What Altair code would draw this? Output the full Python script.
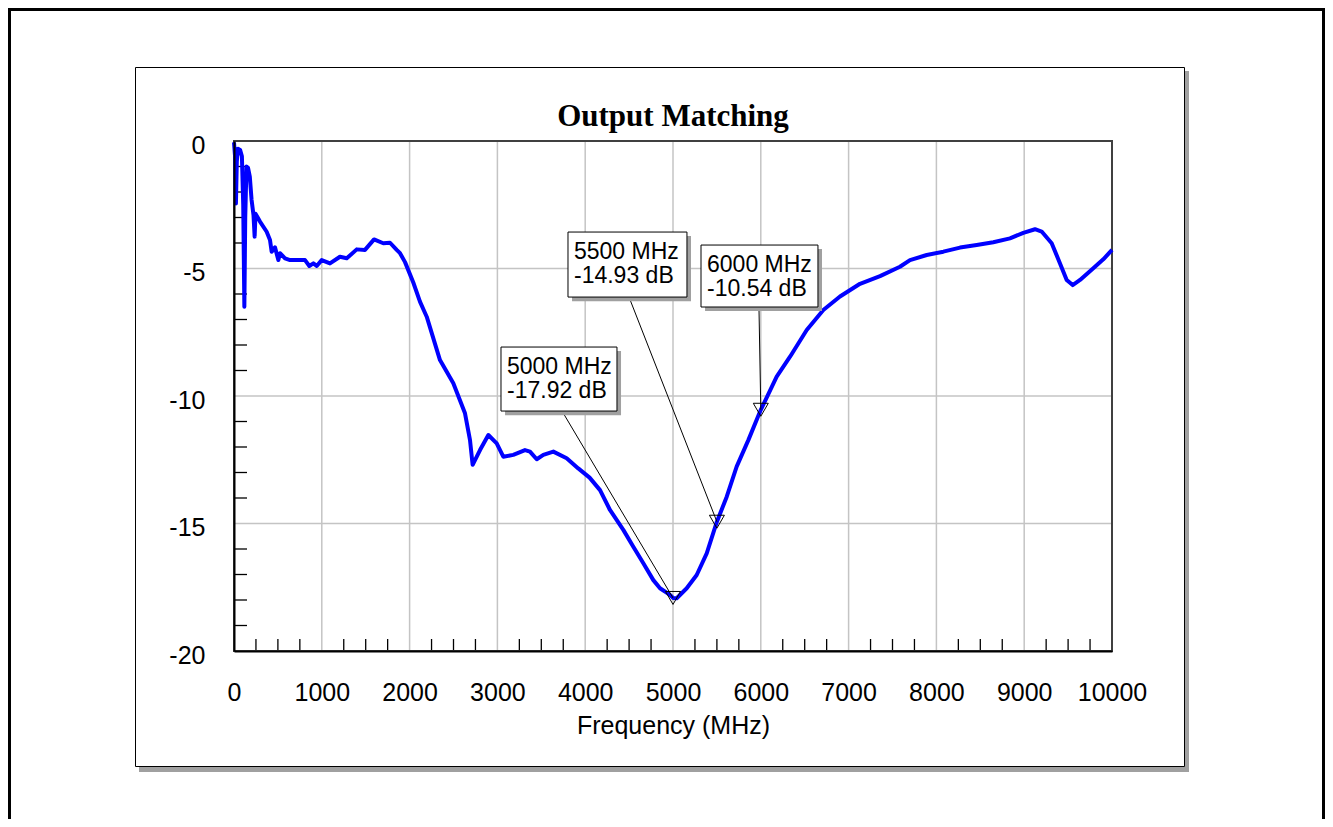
import altair as alt
import pandas as pd

# ---- curve ----
freq_mhz = [0, 12, 22, 32, 45, 70, 90, 105, 118, 128, 142, 160, 180, 200, 222, 235, 245,
            270, 296, 372, 410, 429, 467, 505, 524, 581, 638, 809, 858, 904, 942, 999,
            1093, 1207, 1284, 1398, 1492, 1595, 1700, 1777, 1853, 1891, 1948, 2042, 2118,
            2195, 2346, 2498, 2631, 2688, 2718, 2802, 2897, 2992, 3067, 3181, 3314, 3371,
            3448, 3523, 3637, 3789, 3921, 4050, 4169, 4282, 4434, 4548, 4662, 4776, 4852,
            4966, 5000, 5042, 5156, 5270, 5384, 5500, 5612, 5725, 5858, 6000, 6181, 6333,
            6523, 6712, 6902, 7130, 7358, 7585, 7699, 7890, 8079, 8269, 8459, 8648, 8838,
            8990, 9123, 9199, 9313, 9408, 9484, 9552, 9636, 9787, 9901, 10000]
s_db = [-0.05, -0.6, -2.45, -0.8, -0.3, -0.35, -0.6, -2.5, -6.5, -3.0, -1.0, -1.05, -1.4,
        -2.3, -2.9, -3.75, -2.85, -3.0, -3.16, -3.56, -3.88, -4.34, -4.17, -4.67, -4.4,
        -4.6, -4.67, -4.67, -4.9, -4.8, -4.9, -4.67, -4.8, -4.54, -4.6, -4.25, -4.27,
        -3.86, -4.01, -3.99, -4.27, -4.4, -4.75, -5.55, -6.3, -6.89, -8.59, -9.5, -10.68,
        -11.73, -12.7, -12.12, -11.53, -11.86, -12.38, -12.31, -12.12, -12.18, -12.48,
        -12.31, -12.18, -12.44, -12.84, -13.2, -13.69, -14.47, -15.25, -15.91, -16.56,
        -17.22, -17.54, -17.8, -17.92, -17.93, -17.54, -17.02, -16.17, -14.93, -13.95,
        -12.77, -11.73, -10.54, -9.24, -8.46, -7.41, -6.63, -6.1, -5.6, -5.3, -4.93,
        -4.67, -4.47, -4.34, -4.18, -4.08, -3.97, -3.82, -3.6, -3.46, -3.55, -4.01, -4.8,
        -5.45, -5.65, -5.45, -4.99, -4.64, -4.27]

# ---- markers ----
marker_freq = [5000, 5500, 6000]
marker_db = [-17.92, -14.93, -10.54]
marker_line1 = ["5000 MHz", "5500 MHz", "6000 MHz"]
marker_line2 = ["-17.92 dB", "-14.93 dB", "-10.54 dB"]

# callout box placement, in axis units
box_left = [3041, 3804, 5319]
box_right = [4362, 5159, 6651]
box_top = [-8.08, -3.57, -4.08]
box_bottom = [-10.59, -6.12, -6.51]
lead_freq = [3736, 4499, 5979]

# ---- axes ----
x_ticks = [0, 1000, 2000, 3000, 4000, 5000, 6000, 7000, 8000, 9000, 10000]
y_ticks = [0, -5, -10, -15, -20]
x_grid = [1000, 2000, 3000, 4000, 5000, 6000, 7000, 8000, 9000]
y_grid = [-5, -10, -15]
x_minor = [f for f in range(250, 10000, 250) if f % 1000 != 0]
y_minor = [v for v in range(-1, -20, -1) if v % 5 != 0]

W, H = 878, 510
FONT = "Liberation Sans"

curve = pd.DataFrame({"f": freq_mhz, "db": s_db})
marks = pd.DataFrame({"f": marker_freq, "db": marker_db, "l1": marker_line1, "l2": marker_line2,
                      "bl": box_left, "br": box_right, "bt": box_top, "bb": box_bottom,
                      "lf": lead_freq})

xs = alt.Scale(domain=[0, 10000], nice=False, zero=False)
ys = alt.Scale(domain=[-20, 0], nice=False, zero=False)

XAX = alt.Axis(title="Frequency (MHz)", values=x_ticks, format="d", grid=False, ticks=False,
               labelPadding=29, labelFontSize=25, labelFont=FONT, labelColor="black",
               titleFont=FONT, titleFontSize=25, titleFontWeight="normal", titleColor="black",
               titlePadding=8, domainColor="black", domainWidth=2, zindex=1, labelFlush=False)
YAX = alt.Axis(title=None, values=y_ticks, grid=False, ticks=False,
               labelExpr="datum.value == -5 ? '-5\u00a0\u00a0' : '' + datum.value",
               labelPadding=29, labelFontSize=25, labelFont=FONT, labelColor="black",
               domainColor="black", domainWidth=2, zindex=1, labelFlush=False, labelOffset=4)


def X(field):
    return alt.X(field, scale=xs, axis=XAX)


def Y(field):
    return alt.Y(field, scale=ys, axis=YAX)


one = alt.Data(values=[{"k": 1}])


def box(x, y, x2, y2, **kw):
    return alt.Chart(one).mark_rect(**kw).encode(
        x=alt.value(x), y=alt.value(y), x2=alt.value(x2), y2=alt.value(y2))


outer = box(-224.5, -131.5, 1089.5, 700, fill="transparent", stroke="black", strokeWidth=3)
inner_shadow = box(-95, -70, 955, 631, fill="#a0a0a0")
inner = box(-98.5, -73.5, 950.5, 625.5, fill="white", stroke="black", strokeWidth=1)
plot_border = box(0, 0, W, H, fill="transparent", stroke="#404040", strokeWidth=2)

grid_x = alt.Chart(pd.DataFrame({"g": x_grid})).mark_rule(color="#c4c4c4", strokeWidth=1.5).encode(
    x=X("g:Q"), y=alt.value(0), y2=alt.value(H))
grid_y = alt.Chart(pd.DataFrame({"g": y_grid})).mark_rule(color="#c4c4c4", strokeWidth=1.5).encode(
    y=Y("g:Q"), x=alt.value(0), x2=alt.value(W))
minor_x = alt.Chart(pd.DataFrame({"t": x_minor})).mark_rule(color="black", strokeWidth=1.3).encode(
    x=X("t:Q"), y=alt.value(H - 12), y2=alt.value(H))
minor_y = alt.Chart(pd.DataFrame({"t": y_minor})).mark_rule(color="black", strokeWidth=1.3).encode(
    y=Y("t:Q"), x=alt.value(0), x2=alt.value(13))

line = alt.Chart(curve).mark_line(color="#0000ff", strokeWidth=4, strokeJoin="round").encode(
    x=X("f:Q"), y=Y("db:Q"))

base_m = alt.Chart(marks)
leaders = base_m.mark_rule(color="black", strokeWidth=1).encode(
    x=X("lf:Q"), y=Y("bb:Q"), x2="f:Q", y2="db:Q")
tri = base_m.mark_point(shape="triangle-down", size=225, filled=False, color="black",
                        strokeWidth=1, opacity=1).encode(x=X("f:Q"), y=Y("db:Q"))
shadow = base_m.transform_calculate(
    sl="datum.bl + 46", sr="datum.br + 46", st="datum.bt - 0.16", sb="datum.bb - 0.16"
).mark_rect(fill="#a0a0a0").encode(x=X("sl:Q"), x2="sr:Q", y=Y("st:Q"), y2="sb:Q")
boxes = base_m.mark_rect(fill="white", stroke="black", strokeWidth=1).encode(
    x=X("bl:Q"), x2="br:Q", y=Y("bt:Q"), y2="bb:Q")
txt1 = base_m.mark_text(align="left", baseline="alphabetic", dx=6, dy=27, fontSize=23,
                        font=FONT, color="black").encode(x=X("bl:Q"), y=Y("bt:Q"), text="l1:N")
txt2 = base_m.mark_text(align="left", baseline="alphabetic", dx=6, dy=51, fontSize=23,
                        font=FONT, color="black").encode(x=X("bl:Q"), y=Y("bt:Q"), text="l2:N")

title = alt.Chart(alt.Data(values=[{"t": "Output Matching"}])).mark_text(
    align="center", baseline="alphabetic", font="Liberation Serif", fontWeight="bold",
    fontSize=31, color="black").encode(x=alt.value(W / 2), y=alt.value(-15), text="t:N")

chart = alt.layer(
    outer, inner_shadow, inner, grid_x, grid_y, minor_x, minor_y, plot_border,
    line, leaders, tri, shadow, boxes, txt1, txt2, title
).properties(
    width=W, height=H, autosize="none",
    padding={"left": 226, "top": 133, "right": 213, "bottom": 168},
    background="white",
).configure_view(strokeWidth=0)

chart.save("out.html", embed_options={"renderer": "svg", "actions": False})
